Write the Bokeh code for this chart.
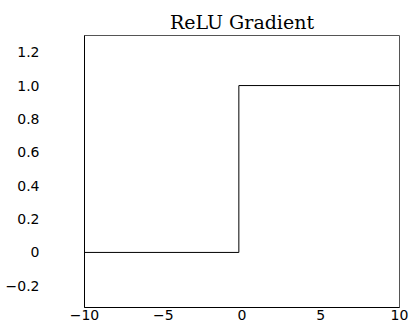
from bokeh.plotting import figure
from bokeh.models import FixedTicker, Range1d
from bokeh.embed import file_html
from bokeh.resources import INLINE

# data
x_vals = [-10, -0.2, -0.2, 10]
grad_vals = [0, 0, 1.0, 1.0]
x_ticks = [-10, -5, 0, 5, 10]
x_tick_labels = ["\u221210", "\u22125", "0", "5", "10"]
y_ticks = [-0.2, 0, 0.2, 0.4, 0.6, 0.8, 1.0, 1.2]
y_tick_labels = ["\u22120.2", "0", "0.2", "0.4", "0.6", "0.8", "1.0", "1.2"]

p = figure(width=417, height=324, output_backend="svg", toolbar_location=None,
           x_range=Range1d(-10, 10), y_range=Range1d(-0.33, 1.30),
           title="ReLU Gradient")
p.min_border_left = 84
p.min_border_right = 18
p.min_border_top = 35
p.min_border_bottom = 17

p.title.align = "center"
p.title.text_font = "DejaVu Serif"
p.title.text_font_size = "19px"
p.title.text_font_style = "normal"
p.title.text_color = "black"
p.title.standoff = 6

p.line(x_vals, grad_vals, line_color="black", line_width=1)

p.xgrid.visible = False
p.ygrid.visible = False
p.outline_line_color = "#555555"
p.outline_line_width = 1

for ax in (p.xaxis[0], p.yaxis[0]):
    ax.major_tick_line_color = None
    ax.minor_tick_line_color = None
    ax.major_tick_out = 0
    ax.major_tick_in = 0
    ax.minor_tick_out = 0
    ax.minor_tick_in = 0
    ax.axis_line_color = "black"
    ax.major_label_text_font = "DejaVu Sans"
    ax.major_label_text_font_size = "14px"
    ax.major_label_text_color = "black"

p.xaxis[0].ticker = FixedTicker(ticks=x_ticks)
p.xaxis[0].major_label_overrides = {t: l for t, l in zip(x_ticks, x_tick_labels)}
p.xaxis[0].major_label_standoff = 2
p.yaxis[0].ticker = FixedTicker(ticks=y_ticks)
p.yaxis[0].major_label_overrides = {t: l for t, l in zip(y_ticks, y_tick_labels)}
p.yaxis[0].major_label_standoff = 45

open("out.html", "w").write(file_html(p, INLINE))
